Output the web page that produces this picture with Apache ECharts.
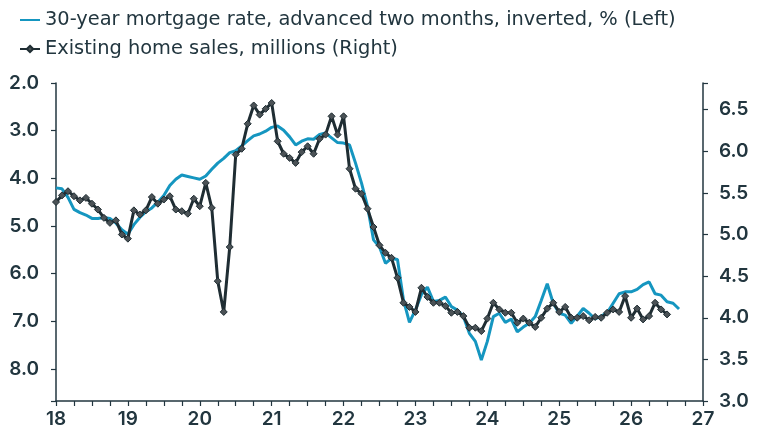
<!DOCTYPE html>
<html>
<head>
<meta charset="utf-8">
<script src="https://cdn.jsdelivr.net/npm/echarts@6/dist/echarts.min.js"></script>
<style>
html,body{margin:0;padding:0;background:#fff;}
#chart{width:759px;height:439px;}
</style>
</head>
<body>
<div id="chart"></div>
<script>
// Monthly data starting January 2018
var startYear = 2018;
var mortgageName = '30-year mortgage rate, advanced two months, inverted, % (Left)';
var salesName = 'Existing home sales, millions (Right)';

// 30-year mortgage rate (advanced two months), Jan 2018 - Sep 2026
var mortgageRate = [
  4.20, 4.22, 4.40, 4.65, 4.72, 4.77, 4.84, 4.84, 4.82, 4.84, 4.94, 5.08,
  5.17, 4.97, 4.82, 4.70, 4.62, 4.50, 4.36, 4.15, 4.02, 3.93, 3.96, 3.99,
  4.02, 3.95, 3.81, 3.68, 3.58, 3.46, 3.42, 3.32, 3.21, 3.11, 3.07, 3.01,
  2.93, 2.90, 2.99, 3.13, 3.30, 3.22, 3.17, 3.18, 3.08, 3.05, 3.15, 3.25,
  3.26, 3.30, 3.68, 4.10, 4.59, 5.29, 5.44, 5.78, 5.68, 5.70, 6.55, 7.02,
  6.76, 6.44, 6.28, 6.58, 6.56, 6.49, 6.69, 6.76, 6.90, 7.25, 7.42, 7.81,
  7.42, 6.90, 6.83, 7.02, 6.95, 7.22, 7.12, 7.04, 6.90, 6.56, 6.21, 6.62,
  6.83, 6.87, 7.04, 6.89, 6.73, 6.83, 6.95, 6.89, 6.82, 6.62, 6.42, 6.38,
  6.38, 6.33, 6.23, 6.17, 6.42, 6.45, 6.59, 6.62, 6.74
];

// Existing home sales, millions, Jan 2018 - Jul 2026
var homeSales = [
  5.39, 5.47, 5.52, 5.46, 5.41, 5.44, 5.37, 5.30, 5.20, 5.14, 5.17, 5.00,
  4.95, 5.29, 5.24, 5.29, 5.45, 5.37, 5.42, 5.46, 5.30, 5.28, 5.25, 5.43,
  5.34, 5.62, 5.32, 4.44, 4.07, 4.85, 5.96, 6.03, 6.33, 6.55, 6.44, 6.51,
  6.58, 6.12, 5.97, 5.92, 5.86, 5.99, 6.06, 5.97, 6.15, 6.20, 6.42, 6.20,
  6.42, 5.79, 5.55, 5.49, 5.31, 5.09, 4.87, 4.78, 4.72, 4.48, 4.18, 4.13,
  4.07, 4.36, 4.25, 4.18, 4.18, 4.14, 4.06, 4.07, 4.02, 3.88, 3.88, 3.84,
  3.99, 4.18, 4.10, 4.06, 4.06, 3.94, 3.99, 3.94, 3.89, 4.00, 4.11, 4.18,
  4.07, 4.13, 4.00, 4.00, 4.02, 3.97, 4.01, 4.00, 4.06, 4.10, 4.07, 4.26,
  4.00, 4.11, 3.98, 4.02, 4.18, 4.10, 4.04
];

// Axis ticks
var xTickYears = [2018, 2019, 2020, 2021, 2022, 2023, 2024, 2025, 2026, 2027];
var leftTicks = [2, 3, 4, 5, 6, 7, 8];
var rightTicks = [3.0, 3.5, 4.0, 4.5, 5.0, 5.5, 6.0, 6.5];

function toPairs(arr) {
  return arr.map(function (v, i) { return [startYear + i / 12, v]; });
}

var textColor = '#22363f';
var axisColor = '#22363f';
var tickFont = 'Inter';
var legendFont = 'DejaVu Sans';
var blue = '#1596c0';
var dark = '#1f2d33';

var chart = echarts.init(document.getElementById('chart'), null, {renderer: 'canvas'});
chart.setOption({
  animation: false,
  backgroundColor: '#ffffff',
  legend: {
    orient: 'vertical',
    left: 14,
    top: 4,
    itemWidth: 20,
    itemHeight: 8,
    itemGap: 7,
    textStyle: {color: textColor, fontSize: 19.4, fontFamily: legendFont, lineHeight: 22},
    data: [
      {name: mortgageName, itemStyle: {opacity: 0}},
      {name: salesName}
    ]
  },
  grid: {left: 56, right: 56, top: 83, bottom: 38, containLabel: false},
  xAxis: {
    type: 'value',
    min: xTickYears[0],
    max: xTickYears[xTickYears.length - 1],
    interval: 1,
    axisLine: {show: true, lineStyle: {color: axisColor, width: 1.5}},
    axisTick: {show: true, length: 5, lineStyle: {color: axisColor, width: 1.2}},
    minorTick: {show: true, splitNumber: 4, length: 5, lineStyle: {color: axisColor, width: 1.2}},
    splitLine: {show: false},
    axisLabel: {
      color: textColor, fontSize: 19, fontFamily: tickFont, fontWeight: 600, margin: 9,
      formatter: function (v) { return String(Math.round(v) - 2000); }
    }
  },
  yAxis: [
    {
      type: 'value',
      inverse: true,
      min: leftTicks[0],
      max: 8.67,
      interval: 1,
      position: 'left',
      axisLine: {show: true, lineStyle: {color: axisColor, width: 1.5}},
      axisTick: {show: true, length: 5, lineStyle: {color: axisColor, width: 1.2}},
      splitLine: {show: false},
      axisLabel: {
        color: textColor, fontSize: 19, fontFamily: tickFont, fontWeight: 600, margin: 17,
        formatter: function (v) {
          return leftTicks.indexOf(Math.round(v * 100) / 100) >= 0 ? v.toFixed(1) : '';
        }
      }
    },
    {
      type: 'value',
      min: rightTicks[0],
      max: 6.82,
      interval: 0.5,
      position: 'right',
      axisLine: {show: true, lineStyle: {color: axisColor, width: 1.5}},
      axisTick: {show: true, length: 5, lineStyle: {color: axisColor, width: 1.2}},
      splitLine: {show: false},
      axisLabel: {
        color: textColor, fontSize: 19, fontFamily: tickFont, fontWeight: 600, margin: 16,
        formatter: function (v) {
          return rightTicks.indexOf(Math.round(v * 100) / 100) >= 0 ? v.toFixed(1) : '';
        }
      }
    }
  ],
  series: [
    {
      name: mortgageName,
      type: 'line',
      yAxisIndex: 0,
      data: toPairs(mortgageRate),
      symbol: 'none',
      lineStyle: {color: blue, width: 3},
      itemStyle: {color: blue},
      z: 2
    },
    {
      name: salesName,
      type: 'line',
      yAxisIndex: 1,
      data: toPairs(homeSales),
      symbol: 'diamond',
      symbolSize: 7,
      showAllSymbol: true,
      lineStyle: {color: dark, width: 3},
      itemStyle: {color: '#4b5256', borderColor: dark, borderWidth: 1},
      z: 3
    }
  ]
});
</script>
</body>
</html>
